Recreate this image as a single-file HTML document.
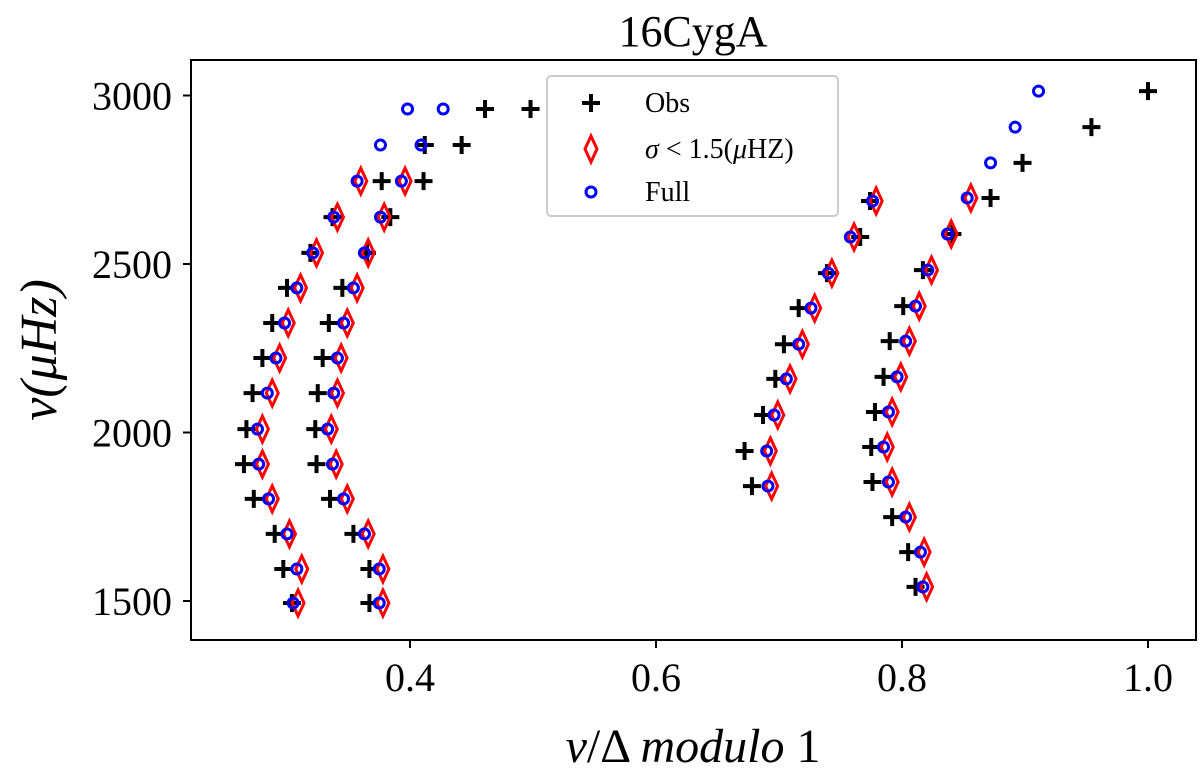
<!DOCTYPE html>
<html><head><meta charset="utf-8"><style>
html,body{margin:0;padding:0;background:#fff;}
svg{display:block;font-family:"Liberation Serif","DejaVu Serif",serif;}
</style></head><body>
<svg id="chart" width="1200" height="781" viewBox="0 0 1200 781">
<text x="693" y="46" font-size="44" text-anchor="middle">16CygA</text>
<g id="plot"></g>
<rect x="191" y="60" width="1005" height="580" fill="none" stroke="#000" stroke-width="2"/>
<g id="ticks"></g>
<text transform="translate(56,350) rotate(-90)" font-size="52" text-anchor="middle" font-style="italic">ν(μHz)</text>
<text x="693" y="762" font-size="48" text-anchor="middle"><tspan font-style="italic">ν</tspan>/Δ <tspan font-style="italic">modulo</tspan> 1</text>
<g>
<rect x="547" y="76" width="291" height="140" rx="4" fill="#fff" fill-opacity="0.85" stroke="#ccc" stroke-width="2"/>
<g>
<path d="M582 103 h18 M591 94 v18" stroke="#000" stroke-width="4"/>
<text x="645" y="112" font-size="28">Obs</text></g>
<g>
<path d="M591 136 L597 149 L591 162 L585 149 Z" fill="none" stroke="red" stroke-width="3"/>
<text x="645" y="158" font-size="28"><tspan font-style="italic">σ</tspan> &lt; 1.5(<tspan font-style="italic">μ</tspan>HZ)</text></g>
<g>
<circle cx="591" cy="192" r="5" fill="none" stroke="blue" stroke-width="3"/>
<text x="645" y="201" font-size="28">Full</text></g>
</g>
</svg>
<script>
const xTicks=[0.4,0.6,0.8,1.0];
const xTickLabels=["0.4","0.6","0.8","1.0"];
const yTicks=[1500,2000,2500,3000];
const yTickLabels=["1500","2000","2500","3000"];
const freqLow=[1494,1595,1699,1803,1906,2010,2117,2221,2325,2429,2533,2639,2746,2853,2960];
const freqMid=[1841,1945,2052,2159,2262,2369,2473,2580,2687];
const freqHigh=[1542,1645,1749,1853,1957,2061,2165,2271,2375,2482,2589,2696,2800,2906,3013];
const obsA=[0.304,0.297,0.290,0.273,0.265,0.267,0.272,0.280,0.288,0.300,0.319,0.337,0.377,0.412,0.461];
const obsB=[0.367,0.367,0.354,0.335,0.324,0.323,0.325,0.329,0.334,0.345,0.365,0.384,0.411,0.442,0.498];
const obsC=[0.678,0.672,0.687,0.697,0.704,0.716,0.739,0.766,0.774];
const obsD=[0.811,0.805,0.792,0.776,0.775,0.778,0.785,0.790,0.801,0.817,0.841,0.872,0.898,0.954,1.000];
const sigA=[0.309,0.312,0.302,0.288,0.280,0.280,0.288,0.294,0.301,0.311,0.324,0.341,0.360];
const sigB=[0.378,0.378,0.366,0.349,0.340,0.336,0.341,0.344,0.349,0.357,0.366,0.379,0.396];
const sigC=[0.694,0.693,0.699,0.709,0.719,0.729,0.743,0.761,0.779];
const sigD=[0.820,0.818,0.806,0.792,0.788,0.792,0.799,0.806,0.814,0.824,0.840,0.856];
const fullA=[0.305,0.308,0.300,0.285,0.277,0.276,0.284,0.291,0.298,0.308,0.321,0.338,0.357,0.376,0.398];
const fullB=[0.375,0.375,0.363,0.346,0.337,0.333,0.338,0.341,0.346,0.354,0.363,0.376,0.393,0.409,0.427];
const fullC=[0.691,0.690,0.696,0.706,0.716,0.726,0.740,0.758,0.776];
const fullD=[0.817,0.815,0.803,0.789,0.785,0.789,0.796,0.803,0.811,0.821,0.837,0.853,0.872,0.892,0.911];

const NS="http://www.w3.org/2000/svg";
function xs(v){return 410+(v-0.4)*1230;}
function ys(f){return 601-(f-1500)*0.337;}
const plot=document.getElementById('plot');
const ticks=document.getElementById('ticks');
function mk(tag,attrs,parent){const e=document.createElementNS(NS,tag);for(const k in attrs)e.setAttribute(k,attrs[k]);parent.appendChild(e);return e;}

xTicks.forEach((t,i)=>{
  const l=mk('line',{x1:xs(t),x2:xs(t),y1:640,y2:648,stroke:'#000','stroke-width':2},ticks);
  
  
  const tx=mk('text',{x:xs(t),y:691,'font-size':40,'text-anchor':'middle'},ticks);
  tx.textContent=xTickLabels[i];
  
  
});
yTicks.forEach((t,i)=>{
  const l=mk('line',{x1:183,x2:191,y1:ys(t),y2:ys(t),stroke:'#000','stroke-width':2},ticks);
  
  
  const tx=mk('text',{x:172,y:ys(t)+14,'font-size':40,'text-anchor':'end'},ticks);
  tx.textContent=yTickLabels[i];
  
  
});

function drawObs(xsArr,fArr){
  xsArr.forEach((v,i)=>{const x=xs(v),y=ys(fArr[i]);
    const p=mk('path',{d:`M${x-9} ${y} h18 M${x} ${y-9} v18`,stroke:'#000','stroke-width':4},plot);
    
    });
}
function drawSig(xsArr,fArr){
  xsArr.forEach((v,i)=>{const x=xs(v),y=ys(fArr[i]);
    const p=mk('path',{d:`M${x} ${y-13} L${x+6} ${y} L${x} ${y+13} L${x-6} ${y} Z`,fill:'none',stroke:'red','stroke-width':3},plot);
    
    });
}
function drawFull(xsArr,fArr){
  xsArr.forEach((v,i)=>{
    const c=mk('circle',{cx:xs(v),cy:ys(fArr[i]),r:5,fill:'none',stroke:'blue','stroke-width':3},plot);
    
    });
}
drawObs(obsA,freqLow);drawObs(obsB,freqLow);drawObs(obsC,freqMid);drawObs(obsD,freqHigh);
drawSig(sigA,freqLow);drawSig(sigB,freqLow);drawSig(sigC,freqMid);drawSig(sigD,freqHigh);
drawFull(fullA,freqLow);drawFull(fullB,freqLow);drawFull(fullC,freqMid);drawFull(fullD,freqHigh);
</script>
</body></html>
